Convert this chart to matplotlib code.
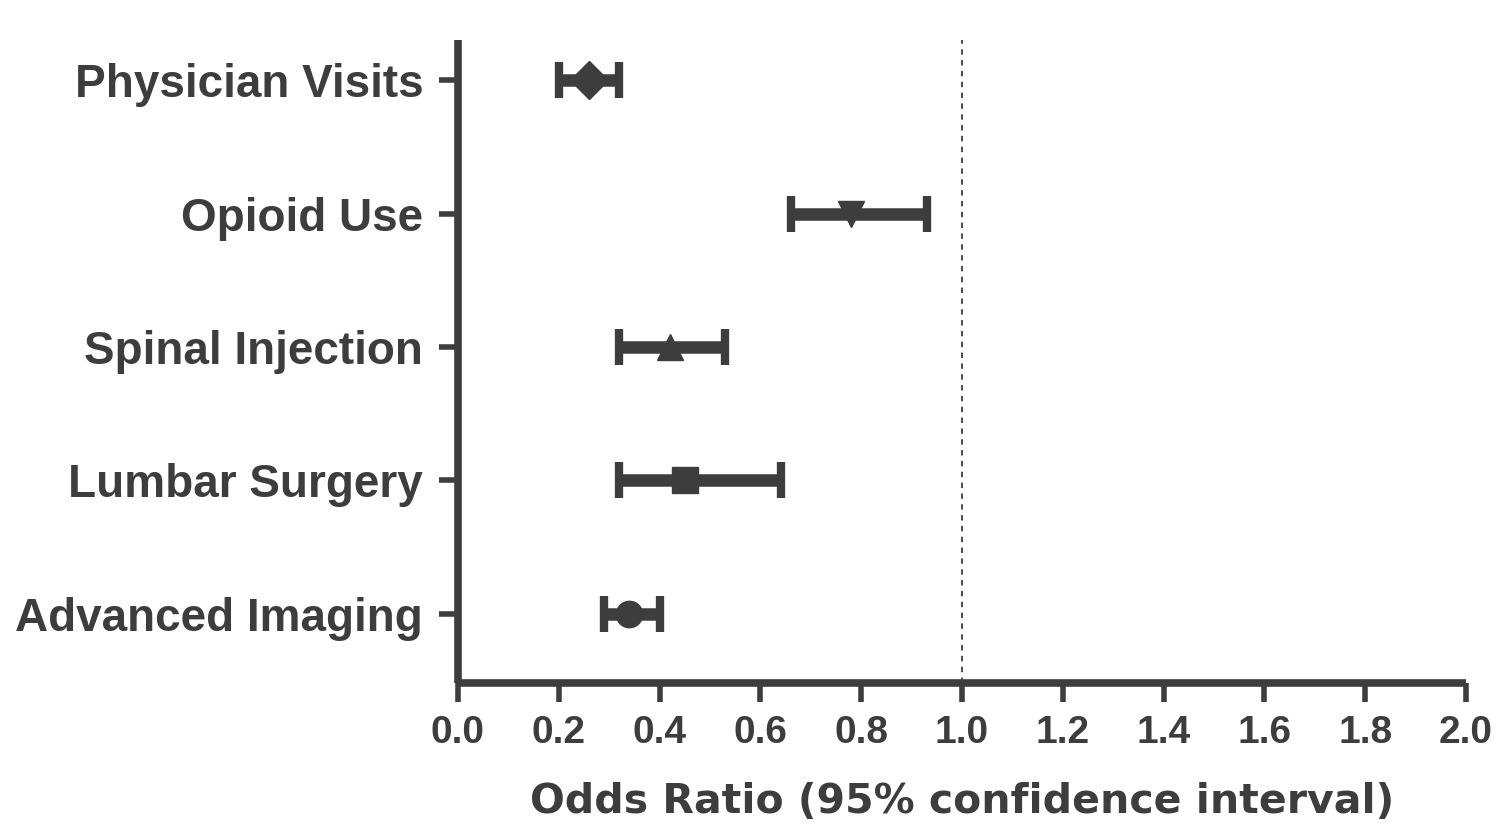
import matplotlib.pyplot as plt
import numpy as np

plt.rcParams['font.family'] = ['Liberation Sans', 'DejaVu Sans']
plt.rcParams['font.weight'] = 'bold'

categories = ["Advanced Imaging", "Lumbar Surgery", "Spinal Injection",
              "Opioid Use", "Physician Visits"]
odds = [0.34, 0.45, 0.42, 0.78, 0.26]
ci_low = [0.29, 0.32, 0.32, 0.66, 0.20]
ci_high = [0.40, 0.64, 0.53, 0.93, 0.32]
markers = ["o", "s", "^", "v", "D"]
xticks = [0.0, 0.2, 0.4, 0.6, 0.8, 1.0, 1.2, 1.4, 1.6, 1.8, 2.0]

col = "#3d3d3d"

fig = plt.figure(figsize=(15.04, 8.23), dpi=100)
ax = fig.add_axes([0.3045, 0.170, 0.6702, 0.781])

y = np.arange(len(categories))
for i in range(len(categories)):
    err = [[odds[i] - ci_low[i]], [ci_high[i] - odds[i]]]
    ax.errorbar(odds[i], y[i], xerr=err, fmt=markers[i], color=col,
                ecolor=col, elinewidth=9, capsize=13, capthick=6,
                markersize=19)

ax.axvline(1.0, color=col, linestyle=(0, (3, 3)), linewidth=1.3)

ax.set_xlim(0, 2.0)
ax.set_ylim(-0.52, 4.3)
ax.set_yticks(y)
ax.set_yticklabels(categories, fontsize=33, color=col)
ax.set_xticks(xticks)
ax.set_xticklabels([f"{t:.1f}" for t in xticks], fontsize=28, color=col)
ax.set_xlabel("Odds Ratio (95% confidence interval)", fontsize=29.5,
              fontweight="bold", family="DejaVu Sans", color=col, labelpad=22)

for s in ["top", "right"]:
    ax.spines[s].set_visible(False)
for s in ["left", "bottom"]:
    ax.spines[s].set_linewidth(5.5)
    ax.spines[s].set_color(col)
    ax.spines[s].set_capstyle("butt")

ax.tick_params(axis="both", length=14, width=4, color=col, direction="out")
ax.tick_params(axis="y", pad=11)
ax.tick_params(axis="x", pad=9)

fig.savefig("out.png", dpi=100)
